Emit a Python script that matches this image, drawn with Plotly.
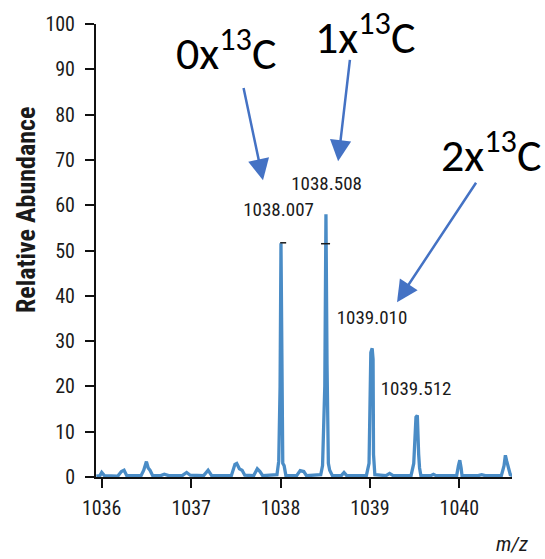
import plotly.graph_objects as go

# ---- data ----
mz = [1035.94, 1035.98, 1036.00, 1036.03, 1036.18, 1036.22, 1036.25, 1036.28,
      1036.44, 1036.47, 1036.50, 1036.52, 1036.54, 1036.57, 1036.66, 1036.70,
      1036.75, 1036.90, 1036.95, 1036.99, 1037.14, 1037.19, 1037.23, 1037.45,
      1037.49, 1037.51, 1037.54, 1037.57, 1037.60, 1037.70, 1037.74, 1037.77,
      1037.80, 1037.96, 1037.98, 1037.995, 1038.005, 1038.015, 1038.025, 1038.04,
      1038.06, 1038.18, 1038.22, 1038.26, 1038.29, 1038.45, 1038.47, 1038.495,
      1038.508, 1038.52, 1038.535, 1038.55, 1038.58, 1038.68, 1038.71, 1038.74,
      1038.96, 1038.99, 1039.00, 1039.01, 1039.025, 1039.035, 1039.04, 1039.055,
      1039.18, 1039.22, 1039.26, 1039.46, 1039.49, 1039.50, 1039.515, 1039.53,
      1039.535, 1039.545, 1039.555, 1039.57, 1039.68, 1039.71, 1039.74, 1039.97,
      1039.99, 1040.005, 1040.02, 1040.03, 1040.21, 1040.25, 1040.29, 1040.47,
      1040.50, 1040.515, 1040.53, 1040.55, 1040.57, 1040.60]
abundance = [0.2, 0.3, 1.0, 0.3, 0.2, 1.2, 1.5, 0.3,
             0.3, 1.5, 3.4, 2.0, 1.5, 0.3, 0.3, 0.6,
             0.3, 0.3, 1.0, 0.4, 0.3, 1.5, 0.3, 0.3,
             2.8, 3.0, 1.8, 1.5, 0.4, 0.3, 1.8, 1.2,
             0.3, 0.5, 3.5, 20.0, 51.6, 25.0, 3.0, 2.5,
             0.3, 0.3, 1.4, 1.2, 0.3, 0.5, 2.5, 20.0,
             58.0, 25.0, 3.0, 1.5, 0.3, 0.3, 1.0, 0.3,
             0.3, 3.0, 15.0, 27.5, 28.4, 26.0, 5.0, 0.5,
             0.3, 0.8, 0.3, 0.3, 3.0, 7.0, 13.2, 13.6,
             7.0, 5.0, 2.0, 0.3, 0.3, 0.6, 0.3, 0.3,
             2.5, 3.7, 2.0, 0.3, 0.3, 0.5, 0.3, 0.3,
             2.5, 4.8, 3.5, 2.0, 0.5, 0.3]

# small black centroid flags at the two main peaks
flag_x = [1037.996, 1038.063, None, 1038.453, 1038.554]
flag_y = [51.7, 51.7, None, 51.5, 51.5]

peak_labels = ["1038.007", "1038.508", "1039.010", "1039.512"]
peak_label_x = [1037.978, 1038.515, 1039.023, 1039.516]
peak_label_y = [58.6, 64.4, 34.9, 19.2]

iso_labels = ["0x<sup>13</sup>C", "1x<sup>13</sup>C", "2x<sup>13</sup>C"]
iso_text_x = [1037.391, 1038.95, 1040.35]
iso_text_y = [94.3, 97.8, 71.8]
arrow_tail_x = [1037.583, 1038.778, 1040.198]
arrow_tail_y = [86.2, 92.4, 65.3]
arrow_tip_x = [1037.804, 1038.644, 1039.303]
arrow_tip_y = [65.5, 69.7, 38.6]

x_ticks = [1036, 1037, 1038, 1039, 1040]
y_ticks = list(range(0, 101, 10))

FONT = "Roboto Condensed, Liberation Sans, Arial, sans-serif"
LINE_COLOR = "#4a8cc6"
ARROW_COLOR = "#4472c4"
TEXT_COLOR = "#1a1a1a"

fig = go.Figure()
fig.add_trace(go.Scatter(x=mz, y=abundance, mode="lines",
                         line=dict(color=LINE_COLOR, width=3.3), hoverinfo="skip"))
fig.add_trace(go.Scatter(x=flag_x, y=flag_y, mode="lines",
                         line=dict(color=TEXT_COLOR, width=1.5), hoverinfo="skip"))
fig.add_trace(go.Scatter(x=peak_label_x, y=peak_label_y, mode="text",
                         text=peak_labels, textposition="middle center",
                         textfont=dict(family=FONT, size=19, color=TEXT_COLOR),
                         hoverinfo="skip"))

annotations = []
for tx, ty, hx, hy in zip(arrow_tail_x, arrow_tail_y, arrow_tip_x, arrow_tip_y):
    annotations.append(dict(x=hx, y=hy, xref="x", yref="y",
                            ax=tx, ay=ty, axref="x", ayref="y",
                            text="", showarrow=True, arrowhead=2,
                            arrowsize=1.7, arrowwidth=2.5, arrowcolor=ARROW_COLOR,
                            standoff=0, startstandoff=0))
for lab, tx, ty in zip(iso_labels, iso_text_x, iso_text_y):
    annotations.append(dict(x=tx, y=ty, xref="x", yref="y", text=lab,
                            showarrow=False, xanchor="center", yanchor="middle",
                            font=dict(family="Carlito, Calibri, Lato, sans-serif",
                                      size=46, color="black")))
annotations.append(dict(x=-0.168, y=0.5895, xref="paper", yref="paper",
                        text="<b>Relative Abundance</b>", textangle=-90,
                        showarrow=False, xanchor="center", yanchor="middle",
                        font=dict(family=FONT, size=26, color=TEXT_COLOR)))
annotations.append(dict(x=1.0, y=-0.148, xref="paper", yref="paper",
                        text="<i>m/z</i>", showarrow=False,
                        xanchor="center", yanchor="middle",
                        font=dict(family=FONT, size=21, color=TEXT_COLOR)))

fig.update_layout(
    width=545, height=559,
    margin=dict(l=96, r=33, t=19, b=82),
    paper_bgcolor="white", plot_bgcolor="white",
    showlegend=False,
    annotations=annotations,
    xaxis=dict(range=[1035.936, 1040.589], tickvals=x_ticks,
               ticktext=[str(v) for v in x_ticks],
               showgrid=False, zeroline=False, showline=True,
               linecolor="#111111", linewidth=2,
               ticks="outside", ticklen=9, tickwidth=2, tickcolor="#111111",
               ticklabelstandoff=3,
               tickfont=dict(family=FONT, size=20, color=TEXT_COLOR)),
    yaxis=dict(range=[0, 100], tickvals=y_ticks,
               ticktext=[str(v) for v in y_ticks],
               showgrid=False, zeroline=False, showline=True,
               linecolor="#111111", linewidth=2,
               ticks="outside", ticklen=9, tickwidth=2, tickcolor="#111111",
               ticklabelstandoff=6,
               tickfont=dict(family=FONT, size=20, color=TEXT_COLOR)),
)

fig.write_html("out.html")
